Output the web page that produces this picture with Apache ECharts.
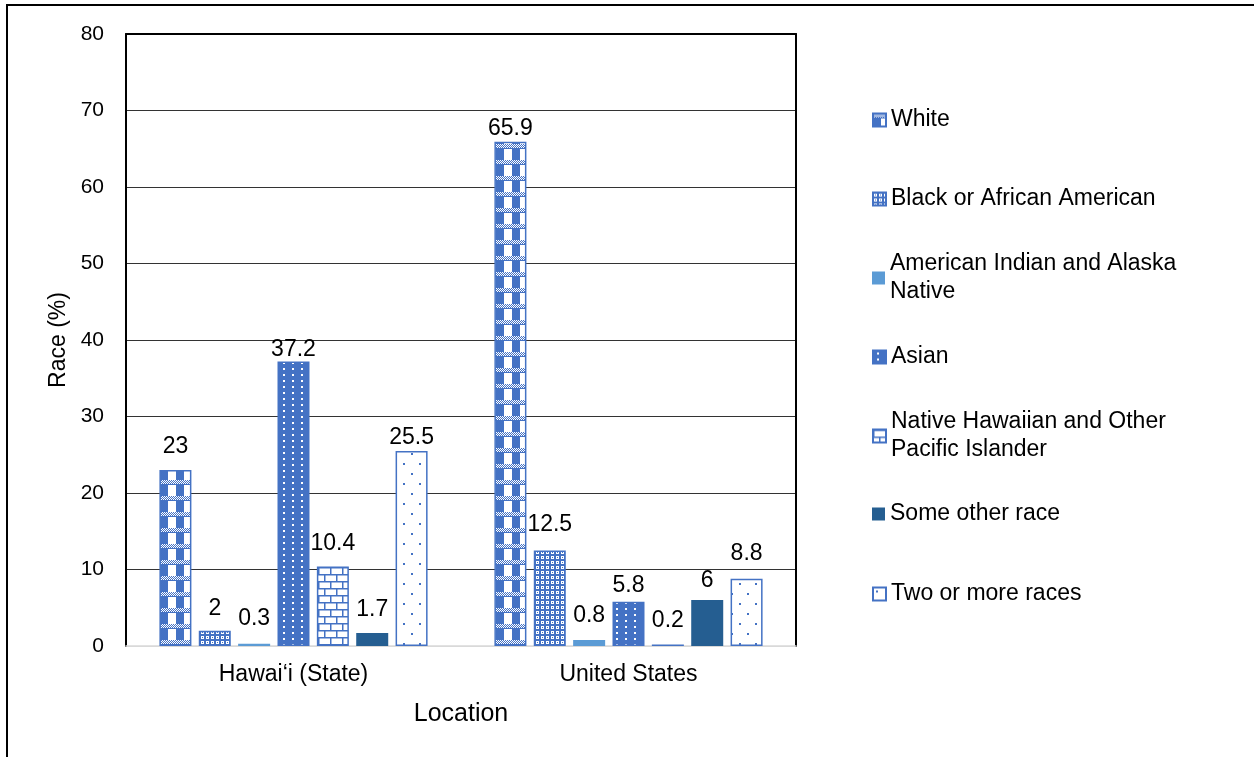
<!DOCTYPE html>
<html>
<head>
<meta charset="utf-8">
<title>Race (%) by Location</title>
<script src="https://cdn.jsdelivr.net/npm/echarts@6/dist/echarts.min.js"></script>
<style>
  html, body { margin: 0; padding: 0; background: #fff; }
  #chart { width: 1254px; height: 757px; }
</style>
</head>
<body>
<div id="chart"></div>
<script>
// ---- data ----
const locations = ['Hawai\u2018i (State)', 'United States'];
const races = [
  'White',
  'Black or African American',
  'American Indian and Alaska Native',
  'Asian',
  'Native Hawaiian and Other Pacific Islander',
  'Some other race',
  'Two or more races'
];
const white = [23, 65.9];
const black = [2, 12.5];
const amIndian = [0.3, 0.8];
const asian = [37.2, 5.8];
const nativeHawaiian = [10.4, 0.2];
const someOther = [1.7, 6];
const twoOrMore = [25.5, 8.8];
const yMin = 0, yMax = 80, yStep = 10;

// ---- styling ----
const FONT = '"Liberation Sans", Arial, sans-serif';
const BLUE = '#4472C4';
const LIGHT_BLUE = '#5B9BD5';
const DARK_BLUE = '#255E91';
const GRID_DARK = '#333333';
const AXIS_LIGHT = '#d9d9d9';

// distance of each value label above its bar (per race, per location)
const labelLift = [
  [12, 2], [11, 14], [14, 13], [0, 4], [11, 12], [12, 8], [2, 14]
];

function tile(w, h, paint) {
  const c = document.createElement('canvas');
  c.width = w; c.height = h;
  const g = c.getContext('2d');
  paint(g, w, h);
  return { image: c, repeat: 'repeat' };
}

// checker blocks separated by lace bands
const checkerFill = tile(16, 16, (g) => {
  g.fillStyle = BLUE; g.fillRect(0, 0, 16, 16);
  g.fillStyle = '#fff';
  g.fillRect(8, 5, 8, 11);
  for (let y = 0; y < 4; y++) {
    for (let x = (y % 2); x < 16; x += 2) { g.fillRect(x, y, 1, 1); }
  }
});
// fine mesh
const meshFill = tile(5, 5, (g) => {
  g.fillStyle = BLUE; g.fillRect(0, 0, 5, 5);
  g.fillStyle = '#fff'; g.fillRect(1, 1, 3, 3);
  g.fillStyle = BLUE; g.fillRect(2, 2, 1, 1);
});
// white dots on blue
const dotFill = tile(9, 6, (g) => {
  g.fillStyle = BLUE; g.fillRect(0, 0, 9, 6);
  g.fillStyle = '#fff'; g.fillRect(4, 2, 2, 2);
});
// brick
const brickFill = tile(12, 14, (g) => {
  g.fillStyle = '#fff'; g.fillRect(0, 0, 12, 14);
  g.fillStyle = BLUE;
  g.fillRect(0, 0, 12, 1.5); g.fillRect(0, 7, 12, 1.5);
  g.fillRect(0, 0, 1.5, 7); g.fillRect(6, 7, 1.5, 7);
});
// sparse blue dots on white
const sparseFill = tile(16, 20, (g) => {
  g.fillStyle = '#fff'; g.fillRect(0, 0, 16, 20);
  g.fillStyle = BLUE;
  g.fillRect(3, 3, 2, 2); g.fillRect(11, 13, 2, 2);
});

const seriesValues = [white, black, amIndian, asian, nativeHawaiian, someOther, twoOrMore];
const seriesFills = [
  { color: checkerFill, borderColor: BLUE, borderWidth: 1.5 },
  { color: meshFill, borderColor: BLUE, borderWidth: 1.5 },
  { color: LIGHT_BLUE, borderColor: LIGHT_BLUE, borderWidth: 0 },
  { color: dotFill, borderColor: BLUE, borderWidth: 1.5 },
  { color: brickFill, borderColor: BLUE, borderWidth: 1.5 },
  { color: DARK_BLUE, borderColor: DARK_BLUE, borderWidth: 0 },
  { color: sparseFill, borderColor: BLUE, borderWidth: 1.5 }
];

const series = races.map((name, s) => ({
  name: name,
  type: 'bar',
  barWidth: 32,
  barGap: '23%',
  itemStyle: seriesFills[s],
  label: {
    show: true,
    position: 'top',
    fontFamily: FONT,
    fontSize: 23,
    color: '#000'
  },
  data: seriesValues[s].map((v, i) => ({ value: v, label: { distance: labelLift[s][i] } }))
}));

// legend: one block per race so the wrapped entries line up
const legendText = {
  'American Indian and Alaska Native': 'American Indian and Alaska\nNative',
  'Native Hawaiian and Other Pacific Islander': 'Native Hawaiian and Other\nPacific Islander'
};
const legendTops = [106, 185, 236, 343, 394, 500, 580];
const legends = races.map((name, s) => ({
  data: [name],
  left: 872,
  top: legendTops[s],
  orient: 'vertical',
  padding: 0,
  itemWidth: 13,
  itemHeight: 13,
  itemGap: 0,
  selectedMode: false,
  icon: 'rect',
  formatter: (n) => legendText[n] || n,
  textStyle: {
    fontFamily: FONT,
    fontSize: 23,
    lineHeight: 28,
    color: '#000',
    padding: legendText[name] ? [28, 0, 0, 0] : 0
  }
}));

// gridline colours: light at the baseline, dark above it
const gridColors = [];
for (let v = yMin; v <= yMax; v += yStep) { gridColors.push(v === yMin ? AXIS_LIGHT : GRID_DARK); }

const chart = echarts.init(document.getElementById('chart'), null, { renderer: 'canvas' });
chart.setOption({
  animation: false,
  backgroundColor: '#fff',
  textStyle: { fontFamily: FONT },
  graphic: [{
    type: 'rect',
    silent: true,
    shape: { x: 7, y: 5, width: 1300, height: 800 },
    style: { fill: 'transparent', stroke: '#000', lineWidth: 2 },
    z: 100
  }],
  legend: legends,
  grid: { left: 126, top: 34, width: 670, height: 612, containLabel: false },
  xAxis: [{
    type: 'category',
    data: locations,
    position: 'bottom',
    axisLine: { show: true, onZero: false, lineStyle: { color: AXIS_LIGHT, width: 1.5 } },
    axisTick: { show: false },
    axisLabel: { fontFamily: FONT, fontSize: 23, color: '#000', margin: 17 },
    name: 'Location',
    nameLocation: 'middle',
    nameGap: 56,
    nameTextStyle: { fontFamily: FONT, fontSize: 25, color: '#000' }
  }, {
    type: 'category',
    data: locations,
    position: 'top',
    axisLine: { show: true, onZero: false, lineStyle: { color: '#000', width: 2 } },
    axisTick: { show: false },
    axisLabel: { show: false }
  }],
  yAxis: [{
    type: 'value',
    min: yMin,
    max: yMax,
    interval: yStep,
    position: 'left',
    axisLine: { show: true, onZero: false, lineStyle: { color: '#000', width: 2 } },
    axisTick: { show: false },
    axisLabel: { fontFamily: FONT, fontSize: 21, color: '#000', margin: 22 },
    splitLine: { show: true, lineStyle: { color: gridColors, width: 1.2 } },
    name: 'Race (%)',
    nameLocation: 'middle',
    nameGap: 54,
    nameRotate: 90,
    nameTextStyle: { fontFamily: FONT, fontSize: 23, color: '#000' }
  }, {
    type: 'value',
    min: yMin,
    max: yMax,
    interval: yStep,
    position: 'right',
    axisLine: { show: true, onZero: false, lineStyle: { color: '#000', width: 2 } },
    axisTick: { show: false },
    axisLabel: { show: false },
    splitLine: { show: false }
  }],
  series: series
});
</script>
</body>
</html>
